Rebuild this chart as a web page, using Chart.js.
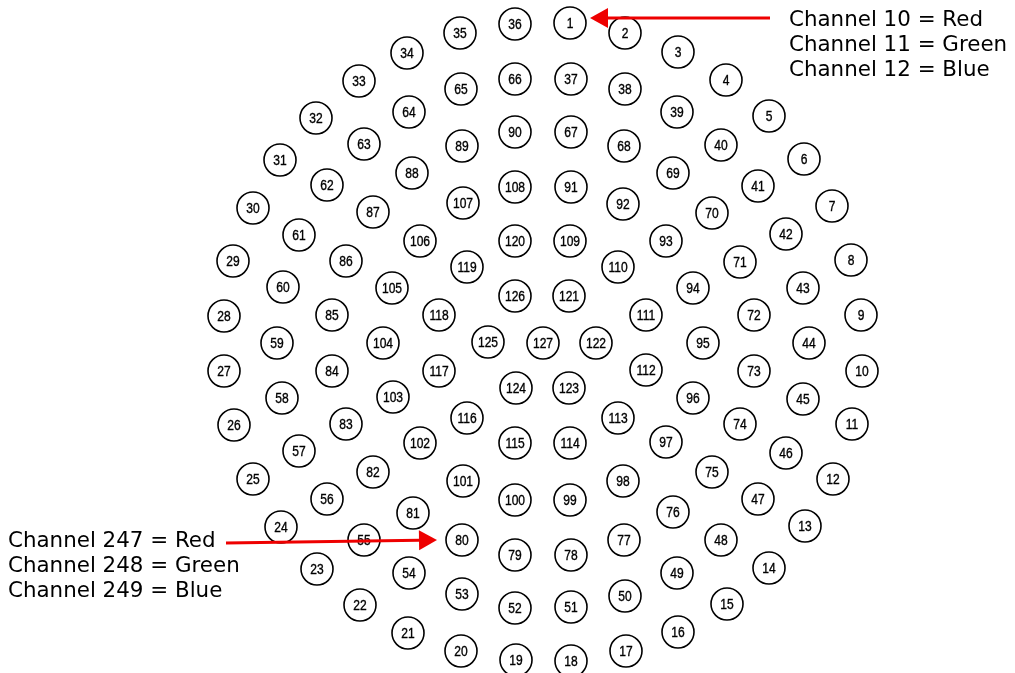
<!DOCTYPE html>
<html>
<head>
<meta charset="utf-8">
<script src="https://cdn.jsdelivr.net/npm/chart.js@4/dist/chart.umd.min.js"></script>
<style>
  html, body { margin: 0; padding: 0; background: #fff; }
  #wrap { width: 1015px; height: 673px; position: relative; }
</style>
</head>
<body>
<div id="wrap"><canvas id="pixelMap"></canvas></div>
<script>
// channel numbers of the pixel circles (1..127)
var channels = [];
for (var i = 1; i <= 127; i++) channels.push(i);

// circle centres, same order as channels
var posX = [570,625,678,726,769,804,832,851,861,862,
            852,833,805,769,727,678,626,571,516,461,
            408,360,317,281,253,234,224,224,233,253,
            280,316,359,407,460,515,571,625,677,721,
            758,786,803,809,803,786,758,721,677,625,
            571,515,462,409,364,327,299,282,277,283,
            299,327,364,409,461,515,571,624,673,712,
            740,754,754,740,712,673,624,571,515,462,
            413,373,346,332,332,346,373,412,462,515,
            571,623,666,693,703,693,666,623,570,515,
            463,420,393,383,392,420,463,515,570,618,
            646,646,618,570,515,467,439,439,467,515,
            569,596,569,516,488,515,543];
var posY = [23,33,52,80,116,159,206,260,315,371,
            424,479,526,568,604,632,651,661,660,651,
            633,605,569,527,479,425,371,316,261,208,
            160,118,81,53,33,24,79,89,112,145,
            186,234,288,343,399,453,499,540,573,596,
            607,608,594,573,540,499,451,398,343,287,
            235,185,144,112,89,79,132,146,173,213,
            262,315,371,424,472,512,540,555,555,540,
            513,472,424,371,315,261,212,173,146,132,
            187,204,241,288,343,398,442,481,500,500,
            481,443,397,343,288,241,203,187,241,267,
            315,370,418,443,443,418,371,315,267,241,
            296,343,388,388,342,296,343];

// callouts
var calloutText = [
  ['Channel 10 = Red', 'Channel 11 = Green', 'Channel 12 = Blue'],
  ['Channel 247 = Red', 'Channel 248 = Green', 'Channel 249 = Blue']
];
var calloutAt = [[789, 20], [8, 541]];
var arrowFrom = [[770, 18], [226, 543]];
var arrowTo = [[590, 18], [437, 540]];

var points = channels.map(function (c, i) { return { x: posX[i], y: posY[i] }; });

var labelPlugin = {
  id: 'labels',
  afterDatasetsDraw: function (chart) {
    var ctx = chart.ctx;
    var sx = chart.scales.x, sy = chart.scales.y;
    var meta = chart.getDatasetMeta(0);

    // numbers inside circles, slightly condensed
    ctx.save();
    ctx.fillStyle = '#000';
    ctx.strokeStyle = '#000';
    ctx.lineWidth = 0.35;
    ctx.font = '14px "Liberation Sans", Arial, sans-serif';
    ctx.textAlign = 'center';
    ctx.textBaseline = 'middle';
    meta.data.forEach(function (el, i) {
      ctx.save();
      ctx.translate(el.x, el.y + 1);
      ctx.scale(0.86, 1);
      ctx.fillText(String(channels[i]), 0, 0);
      ctx.strokeText(String(channels[i]), 0, 0);
      ctx.restore();
    });
    ctx.restore();

    // red arrows
    ctx.save();
    ctx.strokeStyle = '#ee0000';
    ctx.fillStyle = '#ee0000';
    ctx.lineWidth = 3;
    for (var k = 0; k < arrowFrom.length; k++) {
      var x0 = sx.getPixelForValue(arrowFrom[k][0]), y0 = sy.getPixelForValue(arrowFrom[k][1]);
      var x1 = sx.getPixelForValue(arrowTo[k][0]), y1 = sy.getPixelForValue(arrowTo[k][1]);
      var ang = Math.atan2(y1 - y0, x1 - x0);
      var len = 18, half = 10;
      var bx = x1 - len * Math.cos(ang), by = y1 - len * Math.sin(ang);
      ctx.beginPath();
      ctx.moveTo(x0, y0);
      ctx.lineTo(bx, by);
      ctx.stroke();
      ctx.beginPath();
      ctx.moveTo(x1, y1);
      ctx.lineTo(bx + half * Math.sin(ang), by - half * Math.cos(ang));
      ctx.lineTo(bx - half * Math.sin(ang), by + half * Math.cos(ang));
      ctx.closePath();
      ctx.fill();
    }
    ctx.restore();

    // callout text
    ctx.save();
    ctx.fillStyle = '#000';
    ctx.font = '21.4px "DejaVu Sans", Verdana, sans-serif';
    ctx.textAlign = 'left';
    ctx.textBaseline = 'middle';
    for (var t = 0; t < calloutText.length; t++) {
      var tx = sx.getPixelForValue(calloutAt[t][0]);
      var ty = sy.getPixelForValue(calloutAt[t][1]);
      calloutText[t].forEach(function (line, j) {
        ctx.fillText(line, tx, ty + j * 25.3);
      });
    }
    ctx.restore();
  }
};

var ctxmap = document.getElementById('pixelMap').getContext('2d');
var chart = new Chart(ctxmap, {
  type: 'scatter',
  data: {
    datasets: [{
      data: points,
      clip: false,
      pointRadius: 16,
      pointHoverRadius: 16,
      pointBorderWidth: 1.6,
      pointBorderColor: '#000',
      pointBackgroundColor: '#fff'
    }]
  },
  options: {
    responsive: true,
    maintainAspectRatio: false,
    animation: false,
    layout: { padding: 0, autoPadding: false },
    plugins: { legend: { display: false }, tooltip: { enabled: false } },
    scales: {
      x: { type: 'linear', min: 0, max: 1015, display: false },
      y: { type: 'linear', min: 0, max: 673, reverse: true, display: false }
    }
  },
  plugins: [labelPlugin]
});
</script>
</body>
</html>
